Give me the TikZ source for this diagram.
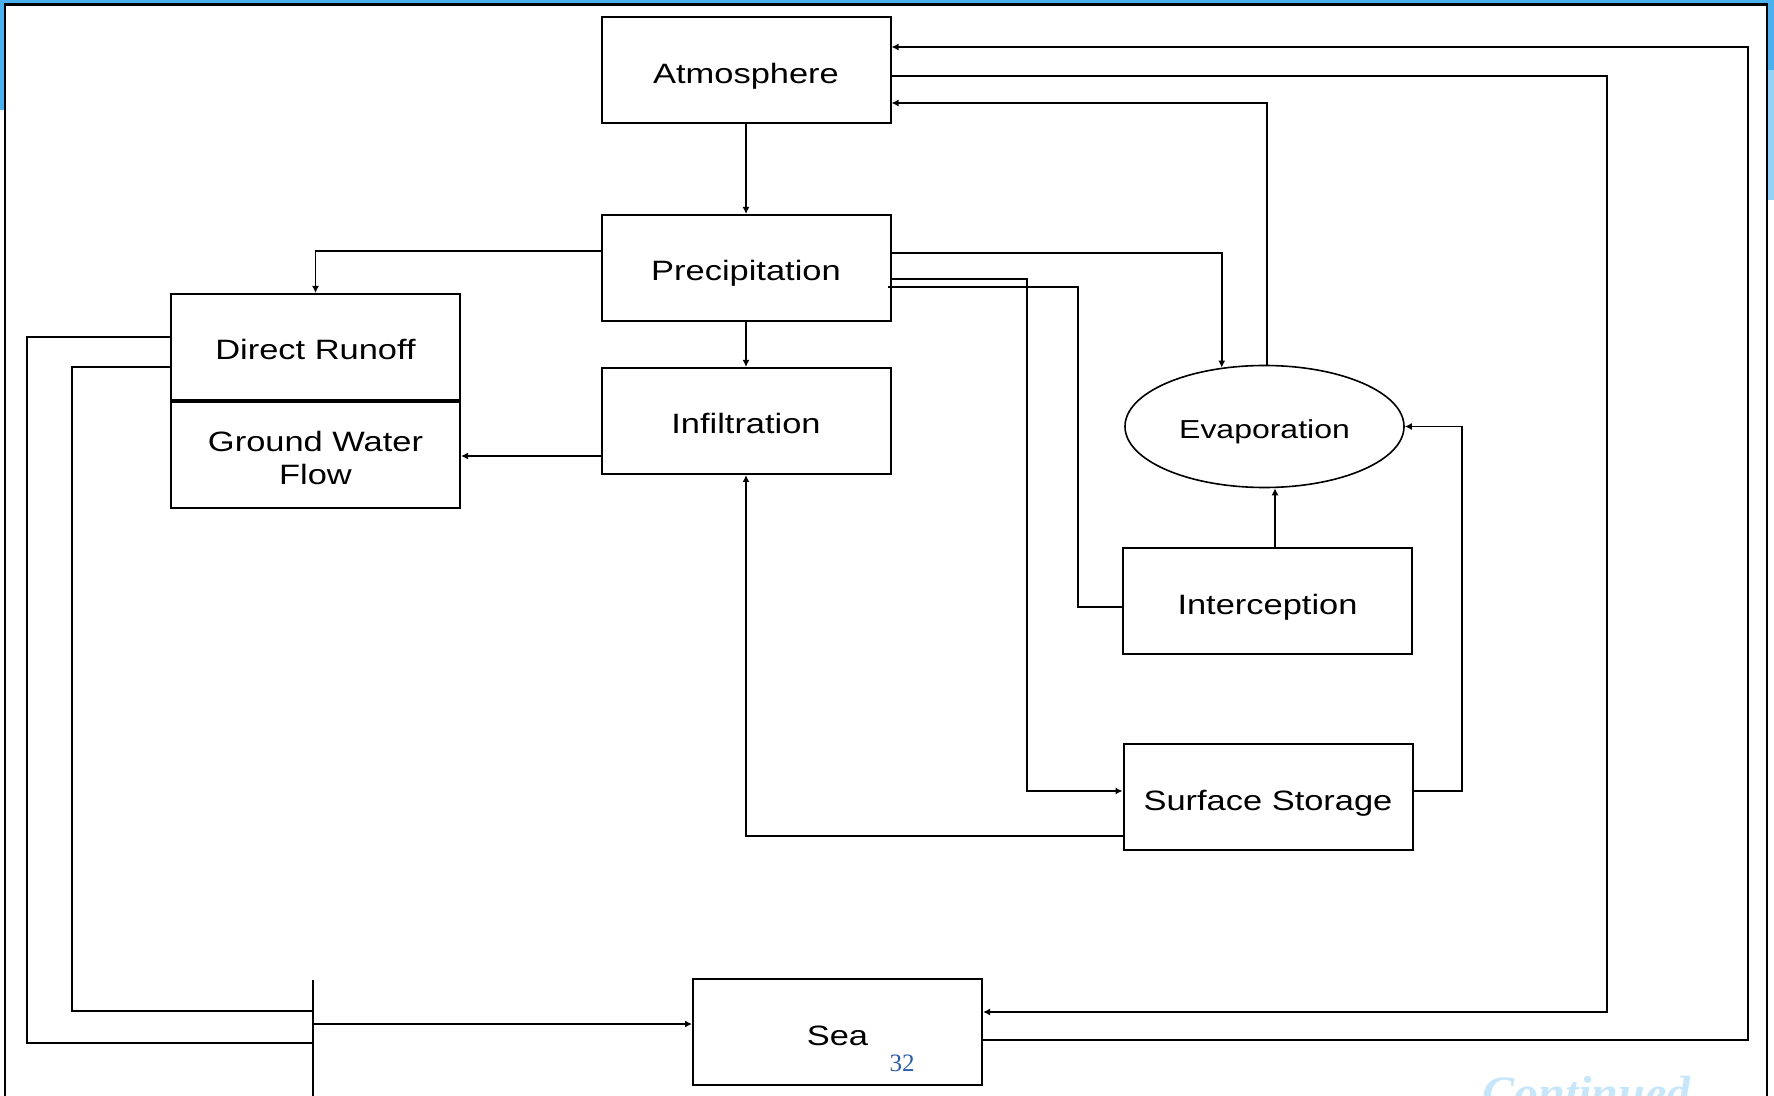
\documentclass[tikz,border=0pt]{standalone}
\usepackage{fontspec}
\setmainfont{Liberation Sans}
\newfontfamily\labfont{Liberation Sans}[FakeStretch=1.23]
\newfontfamily\serfont{Liberation Serif}
\usetikzlibrary{arrows.meta,shapes.geometric,calc}
\definecolor{slideblue}{RGB}{74,176,238}
\definecolor{slidelight}{RGB}{150,210,245}
\definecolor{pagenum}{RGB}{46,92,168}
\definecolor{wmark}{RGB}{200,230,250}
\begin{document}
\begin{tikzpicture}[x=0.5pt,y=-0.5pt,
  lab/.style={font=\labfont\fontsize{14}{16.5}\selectfont},
  boxbase/.style={draw,line width=1pt,minimum width=144.5pt,minimum height=53pt,inner sep=0pt,align=center,lab},
  box/.style={boxbase,text height=13pt,text depth=0pt},
  conn/.style={line width=0.9pt},
  arr/.style={conn,-{Latex[length=3.5pt,width=3.5pt]}}]
\useasboundingbox (0,0) rectangle (1774,1096);
\clip (0,0) rectangle (1774,1096);
% slide frame
\fill[slideblue] (0,0) rectangle (1774,3.5);
\fill[slideblue] (0,0) rectangle (4,110);
\fill[slideblue] (1768,0) rectangle (1774,70);
\fill[slidelight] (1768,70) rectangle (1774,200);
\draw[line width=1.1pt] (5,1100) -- (5,4.5) -- (1767,4.5) -- (1767,1100);
% watermark and page number
\node[font=\serfont\bfseries\itshape\fontsize{24}{24}\selectfont,text=wmark,anchor=base west,inner sep=0pt] (cont) at (1482,1109) {Continued};
% nodes
\node[box] (atm) at (746,70.5) {Atmosphere};
\node[box] (prec) at (746,268) {Precipitation};
\node[box] (infl) at (746,421) {Infiltration};
\node[box] (dro) at (315.5,347) {Direct Runoff};
\node[boxbase] (gwf) at (315.5,455.5) {};
\node[lab,align=center,inner sep=0pt] (gwft) at (315.5,458) {Ground Water\\Flow};
\node[draw,ellipse,line width=0.8pt,minimum width=139.5pt,minimum height=61pt,inner sep=0pt,text height=12.3pt,text depth=0pt,font=\labfont\fontsize{13}{15}\selectfont] (evap) at (1264.5,426.5) {Evaporation};
\node[box] (inter) at (1267.5,601.5) {Interception};
\node[box] (surf) at (1268,797) {Surface Storage};
\node[box,text height=14pt] (sea) at (837.5,1031.5) {Sea};
\node[font=\serfont\fontsize{12.5}{14}\selectfont,text=pagenum,inner sep=0pt] (pnum) at (902,1063) {32};
% junction bar
\coordinate (jT) at (313,980);
\coordinate (jB) at (313,1096);
\coordinate (j) at (313,1024);
% connectors
\draw[arr] (atm.south) -- (prec.north);
\draw[arr] (prec.west |- 0,251) -| (dro.north);
\draw[arr] (prec.south) -- (infl.north);
\draw[arr] (infl.west |- 0,456) -- (gwf.east |- 0,456);
\draw[arr] (prec.east |- 0,253) -| (evap.126);
\draw[arr] (prec.east |- 0,279) -| (1027,791) -- (surf.west |- 0,791);
\draw[conn] ($(prec.east |- 0,287)+(-4,0)$) -| (1078,607) -- (inter.west |- 0,607);
\draw[arr] (inter.north -| 1275,0) -- (evap.south -| 1275,0);
\draw[arr] (surf.east |- 0,791) -- (1462,791) |- (evap.east);
\draw[arr] (surf.west |- 0,836) -| (infl.south);
\draw[arr] (evap.north -| 1267,0) |- (atm.east |- 0,103);
\draw[arr,line width=1.3pt] (atm.east |- 0,76) -| (1607,1012) -- (sea.east |- 0,1012);
\draw[arr] (sea.east |- 0,1040) -| (1748,47) -- (atm.east |- 0,47);
\draw[conn] (dro.west |- 0,337) -| (27,1043) -- (j |- 0,1043);
\draw[conn] (dro.west |- 0,367) -| (72,1011) -- (j |- 0,1011);
\draw[conn] (jT) -- (jB);
\draw[arr] (j) -- (sea.west |- j);
\end{tikzpicture}
\end{document}
